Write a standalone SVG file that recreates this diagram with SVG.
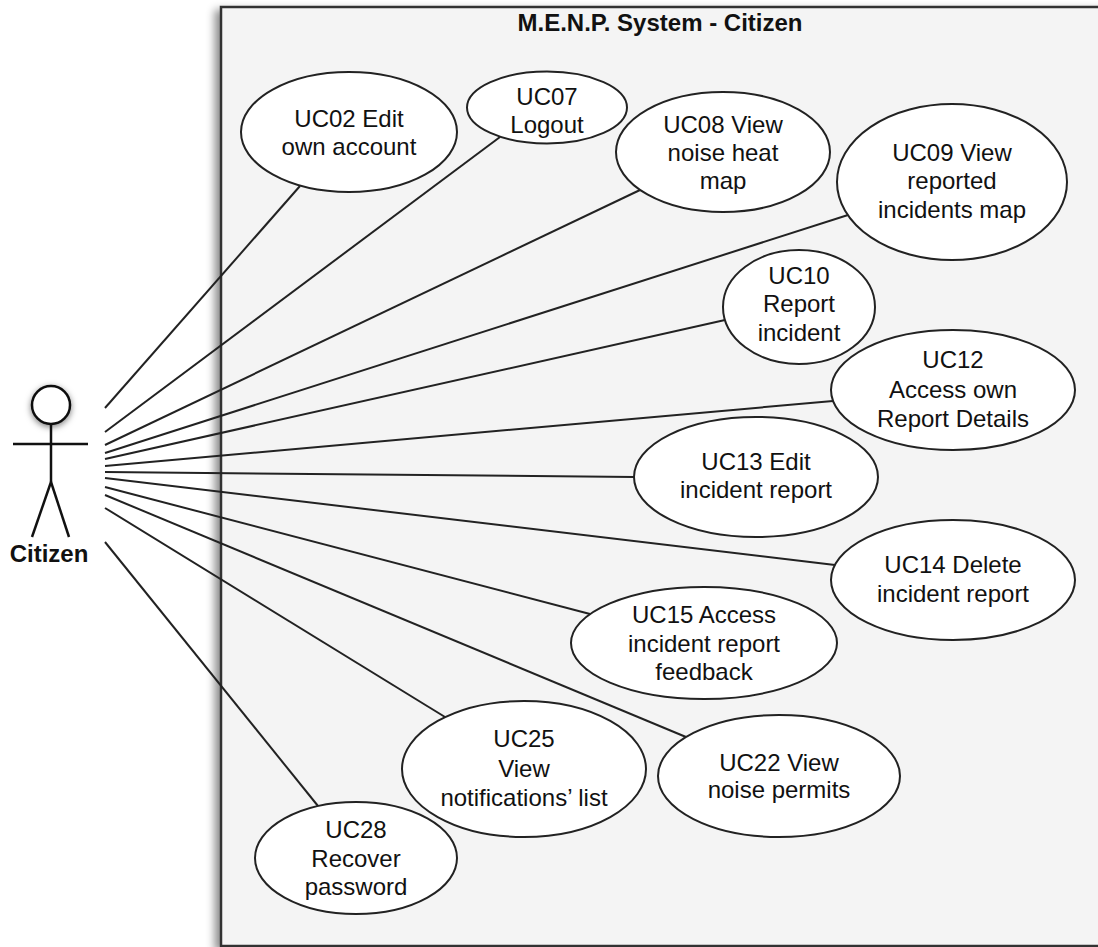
<svg xmlns="http://www.w3.org/2000/svg" width="1098" height="947" viewBox="0 0 1098 947">
<defs>
<filter id="boxShadow" x="-5%" y="-5%" width="110%" height="110%">
<feDropShadow dx="-5" dy="4" stdDeviation="4" flood-color="#000" flood-opacity="0.45"/>
</filter>
<filter id="headShadow" x="-50%" y="-50%" width="200%" height="200%">
<feDropShadow dx="0" dy="2" stdDeviation="3" flood-color="#000" flood-opacity="0.5"/>
</filter>
<style>
.uc{fill:#fff;stroke:#222;stroke-width:2}
.lbl{font-family:"Liberation Sans",Arial,Helvetica,sans-serif;font-size:24px;fill:#111;text-anchor:middle}
.bold{font-weight:bold}
.conn line{stroke:#222;stroke-width:2}
.actor{stroke:#111;stroke-width:2.5;fill:none}
</style>
</defs>
<rect width="1098" height="947" fill="#fff"/>
<g id="system">
<rect x="221" y="7" width="890" height="939" fill="#f4f4f4" stroke="#333" stroke-width="2.5" filter="url(#boxShadow)"/>
<text class="lbl bold" x="660" y="31">M.E.N.P. System - Citizen</text>
</g>
<g id="actor-citizen">
<circle cx="51" cy="405" r="19" fill="#fff" stroke="#111" stroke-width="2.5" filter="url(#headShadow)"/>
<line class="actor" x1="51" y1="424" x2="51" y2="482"/>
<line class="actor" x1="13" y1="444" x2="88" y2="444"/>
<line class="actor" x1="51" y1="482" x2="32" y2="537"/>
<line class="actor" x1="51" y1="482" x2="69" y2="537"/>
<text class="lbl bold" x="49" y="562">Citizen</text>
</g>
<g id="connectors" class="conn">
<line x1="105" y1="408" x2="300" y2="186"/>
<line x1="105" y1="432" x2="500" y2="137"/>
<line x1="105" y1="445" x2="640" y2="190"/>
<line x1="105" y1="453" x2="848" y2="215"/>
<line x1="105" y1="459" x2="725" y2="320"/>
<line x1="105" y1="466" x2="833" y2="401"/>
<line x1="105" y1="472" x2="634" y2="477"/>
<line x1="105" y1="478" x2="835" y2="565"/>
<line x1="105" y1="487" x2="590" y2="614"/>
<line x1="105" y1="495" x2="686" y2="737"/>
<line x1="105" y1="508" x2="445" y2="717"/>
<line x1="105" y1="542" x2="318" y2="806"/>
</g>
<g id="uc02">
<ellipse class="uc" cx="349" cy="132" rx="108" ry="60"/>
<text class="lbl" x="349" y="127">UC02 Edit</text>
<text class="lbl" x="349" y="155">own account</text>
</g>
<g id="uc07">
<ellipse class="uc" cx="547" cy="107.5" rx="80" ry="36"/>
<text class="lbl" x="547" y="105">UC07</text>
<text class="lbl" x="547" y="133">Logout</text>
</g>
<g id="uc08">
<ellipse class="uc" cx="723" cy="152" rx="107" ry="60"/>
<text class="lbl" x="723" y="133">UC08 View</text>
<text class="lbl" x="723" y="161">noise heat</text>
<text class="lbl" x="723" y="189">map</text>
</g>
<g id="uc09">
<ellipse class="uc" cx="952" cy="182" rx="115" ry="78"/>
<text class="lbl" x="952" y="161">UC09 View</text>
<text class="lbl" x="952" y="189">reported</text>
<text class="lbl" x="952" y="218">incidents map</text>
</g>
<g id="uc10">
<ellipse class="uc" cx="799" cy="307" rx="76" ry="57"/>
<text class="lbl" x="799" y="284">UC10</text>
<text class="lbl" x="799" y="312">Report</text>
<text class="lbl" x="799" y="341">incident</text>
</g>
<g id="uc12">
<ellipse class="uc" cx="953" cy="390" rx="122" ry="60"/>
<text class="lbl" x="953" y="368">UC12</text>
<text class="lbl" x="953" y="398">Access own</text>
<text class="lbl" x="953" y="427">Report Details</text>
</g>
<g id="uc13">
<ellipse class="uc" cx="756" cy="477" rx="122" ry="60"/>
<text class="lbl" x="756" y="470">UC13 Edit</text>
<text class="lbl" x="756" y="498">incident report</text>
</g>
<g id="uc14">
<ellipse class="uc" cx="953" cy="580" rx="122" ry="60"/>
<text class="lbl" x="953" y="573">UC14 Delete</text>
<text class="lbl" x="953" y="602">incident report</text>
</g>
<g id="uc15">
<ellipse class="uc" cx="704" cy="643" rx="133" ry="56"/>
<text class="lbl" x="704" y="623">UC15 Access</text>
<text class="lbl" x="704" y="652">incident report</text>
<text class="lbl" x="704" y="680">feedback</text>
</g>
<g id="uc22">
<ellipse class="uc" cx="779" cy="776" rx="121" ry="61"/>
<text class="lbl" x="779" y="771">UC22 View</text>
<text class="lbl" x="779" y="798">noise permits</text>
</g>
<g id="uc25">
<ellipse class="uc" cx="524" cy="769" rx="122" ry="68"/>
<text class="lbl" x="524" y="747">UC25</text>
<text class="lbl" x="524" y="777">View</text>
<text class="lbl" x="524" y="806">notifications’ list</text>
</g>
<g id="uc28">
<ellipse class="uc" cx="356" cy="858" rx="101" ry="56"/>
<text class="lbl" x="356" y="838">UC28</text>
<text class="lbl" x="356" y="867">Recover</text>
<text class="lbl" x="356" y="895">password</text>
</g>
</svg>
